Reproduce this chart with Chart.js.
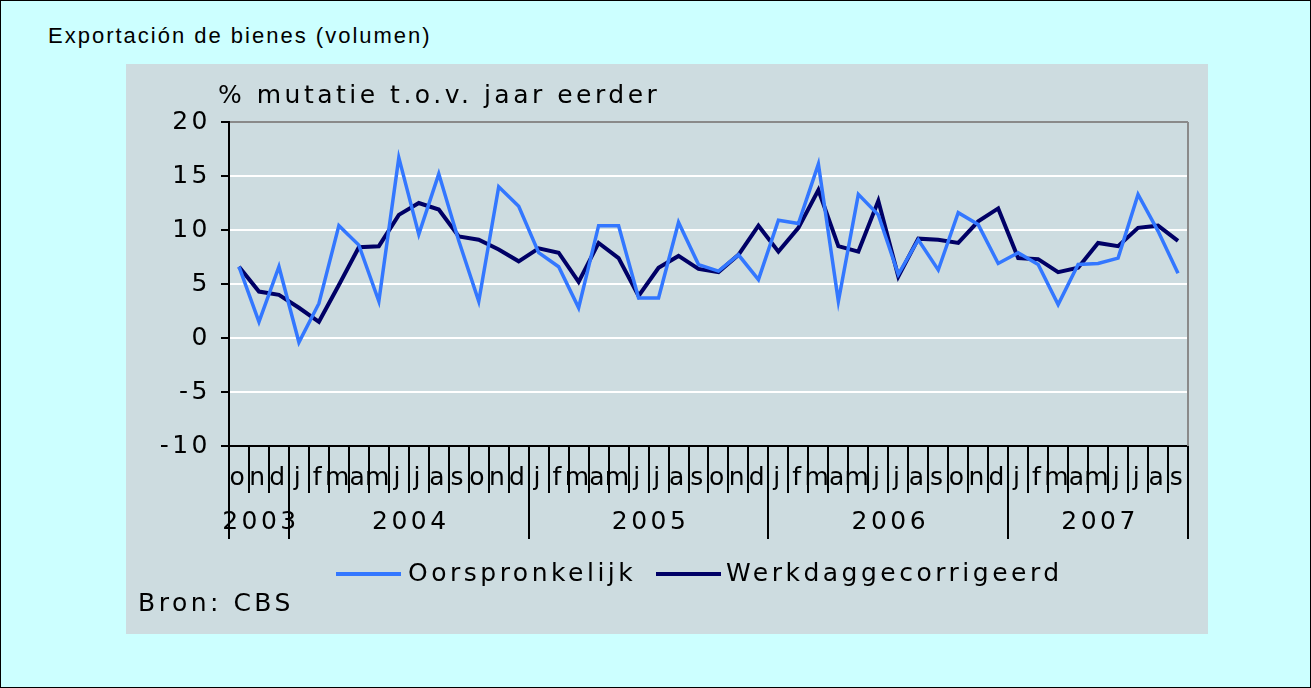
<!DOCTYPE html>
<html>
<head>
<meta charset="utf-8">
<script src="https://cdn.jsdelivr.net/npm/chart.js@4.4.1/dist/chart.umd.min.js"></script>
<style>
  html, body { margin: 0; padding: 0; background: #ccffff; }
  #page { position: relative; width: 1311px; height: 688px; box-sizing: border-box; border: 1px solid #000; background: #ccffff; }
  #title { position: absolute; left: 47px; top: 22px; font: 22px "Liberation Sans", Arial, sans-serif; letter-spacing: 2px; color: #000; }
  #panel { position: absolute; left: 125px; top: 63px; width: 1082px; height: 570px; background: #cddce0; }
</style>
</head>
<body>
<div id="page">
  <div id="title">Exportación de bienes (volumen)</div>
  <div id="panel"><canvas id="chart" width="1082" height="570"></canvas></div>
</div>
<script>
// ---------- Data ----------
const monthLabels = [
  "o", "n", "d",
  "j", "f", "m", "a", "m", "j", "j", "a", "s", "o", "n", "d",
  "j", "f", "m", "a", "m", "j", "j", "a", "s", "o", "n", "d",
  "j", "f", "m", "a", "m", "j", "j", "a", "s", "o", "n", "d",
  "j", "f", "m", "a", "m", "j", "j", "a", "s"
];
// year label, index of first month, index after last month
const yearLabels = ["2003", "2004", "2005", "2006", "2007"];
const yearStarts = [0, 3, 15, 27, 39];
const yearEnds = [3, 15, 27, 39, 48];

const oorspronkelijk = [
  6.6, 1.5, 6.6,
  -0.4, 3.2, 10.4, 8.6, 3.4, 16.7, 9.6, 15.2, 9.0, 3.4, 14.0, 12.2,
  7.9, 6.6, 2.8, 10.4, 10.4, 3.7, 3.7, 10.7, 6.8, 6.2, 7.7, 5.4,
  10.9, 10.6, 16.1, 3.4, 13.3, 11.4, 5.9, 9.1, 6.3, 11.6, 10.5, 6.9,
  7.9, 6.8, 3.1, 6.8, 6.9, 7.4, 13.3, 9.9, 6.0
];
const werkdaggecorrigeerd = [
  6.6, 4.3, 4.0,
  2.8, 1.5, 4.9, 8.4, 8.5, 11.4, 12.5, 11.9, 9.4, 9.1, 8.2, 7.1,
  8.3, 7.9, 5.2, 8.8, 7.4, 3.9, 6.5, 7.6, 6.4, 6.1, 7.7, 10.4,
  8.0, 10.2, 13.7, 8.5, 8.0, 12.7, 5.7, 9.2, 9.1, 8.8, 10.8, 12.0,
  7.4, 7.3, 6.1, 6.5, 8.8, 8.5, 10.2, 10.4, 9.0
];
const seriesNames = ["Oorspronkelijk", "Werkdaggecorrigeerd"];
const yTitle = "% mutatie t.o.v. jaar eerder";
const sourceText = "Bron: CBS";

// ---------- Styles ----------
const FONT = '"DejaVu Sans", Verdana, sans-serif';
const FONT_SIZE = 25;
const SPACING = "3.5px";
const lightBlue = "#3377ff";
const navy = "#000066";

// ---------- Extra drawing: axis title, month/year separators, legend ----------
const decorPlugin = {
  id: "decor",
  beforeDraw(chart) {
    chart.ctx.letterSpacing = SPACING;
  },
  afterDraw(chart) {
    const ctx = chart.ctx;
    const x = chart.scales.x;
    const area = chart.chartArea;
    const step = x.getPixelForValue(1) - x.getPixelForValue(0);
    const edge = i => x.getPixelForValue(i) - step / 2;
    const yearEdges = new Set([...yearStarts, 48]);

    ctx.save();
    ctx.letterSpacing = SPACING;

    // right border of the plot
    ctx.strokeStyle = "#8a8a8a";
    ctx.lineWidth = 2;
    ctx.beginPath();
    ctx.moveTo(Math.round(area.right), area.top);
    ctx.lineTo(Math.round(area.right), area.bottom);
    ctx.stroke();

    // month / year separators below the axis
    ctx.strokeStyle = "#000";
    ctx.lineWidth = 2;
    for (let i = 0; i <= monthLabels.length; i++) {
      const px = Math.round(edge(i));
      const len = yearEdges.has(i) ? 93 : 47;
      ctx.beginPath();
      ctx.moveTo(px, area.bottom);
      ctx.lineTo(px, area.bottom + len);
      ctx.stroke();
    }

    ctx.fillStyle = "#000";
    ctx.font = FONT_SIZE + "px " + FONT;
    ctx.textBaseline = "middle";
    ctx.textAlign = "center";
    yearLabels.forEach((yr, k) => {
      const cx = (edge(yearStarts[k]) + edge(yearEnds[k])) / 2;
      ctx.fillText(yr, cx + 2, area.bottom + 76);
    });

    // axis title
    ctx.textAlign = "left";
    ctx.fillText(yTitle, 92, 32);

    // legend
    const items = [[210, 282], [530, 600]];
    chart.data.datasets.forEach((ds, k) => {
      const [lx, tx] = items[k];
      ctx.strokeStyle = ds.borderColor;
      ctx.lineWidth = 4;
      ctx.beginPath();
      ctx.moveTo(lx, 510);
      ctx.lineTo(lx + 65, 510);
      ctx.stroke();
      ctx.fillText(ds.label, tx, 510);
    });

    // source
    ctx.fillText(sourceText, 12, 540);
    ctx.restore();
  }
};

new Chart(document.getElementById("chart"), {
  type: "line",
  data: {
    labels: monthLabels,
    datasets: [
      {
        label: seriesNames[0],
        data: oorspronkelijk,
        borderColor: lightBlue,
        borderWidth: 3.5,
        pointRadius: 0,
        tension: 0
      },
      {
        label: seriesNames[1],
        data: werkdaggecorrigeerd,
        borderColor: navy,
        borderWidth: 4,
        pointRadius: 0,
        tension: 0
      }
    ]
  },
  options: {
    responsive: false,
    animation: false,
    layout: { padding: { left: 0, top: 58, right: 20, bottom: 0 } },
    plugins: {
      legend: { display: false },
      title: { display: false },
      tooltip: { enabled: false }
    },
    scales: {
      x: {
        offset: true,
        grid: { display: false, drawTicks: false },
        border: { display: true, color: "#000", width: 2 },
        ticks: {
          autoSkip: false,
          maxRotation: 0,
          padding: 17,
          color: "#000",
          font: { family: FONT, size: FONT_SIZE }
        },
        afterFit: s => { s.height = 188; }
      },
      y: {
        min: -10,
        max: 20,
        ticks: {
          stepSize: 5,
          padding: 10,
          color: "#000",
          font: { family: FONT, size: FONT_SIZE }
        },
        grid: {
          color: c => c.tick.value === 20 ? "#8a8a8a" : (c.tick.value === -10 ? "#000" : "#ffffff"),
          lineWidth: 2,
          tickColor: "#000",
          tickLength: 8
        },
        border: { display: true, color: "#000", width: 2 },
        afterFit: s => { s.width = 103; }
      }
    }
  },
  plugins: [decorPlugin]
});
</script>
</body>
</html>
